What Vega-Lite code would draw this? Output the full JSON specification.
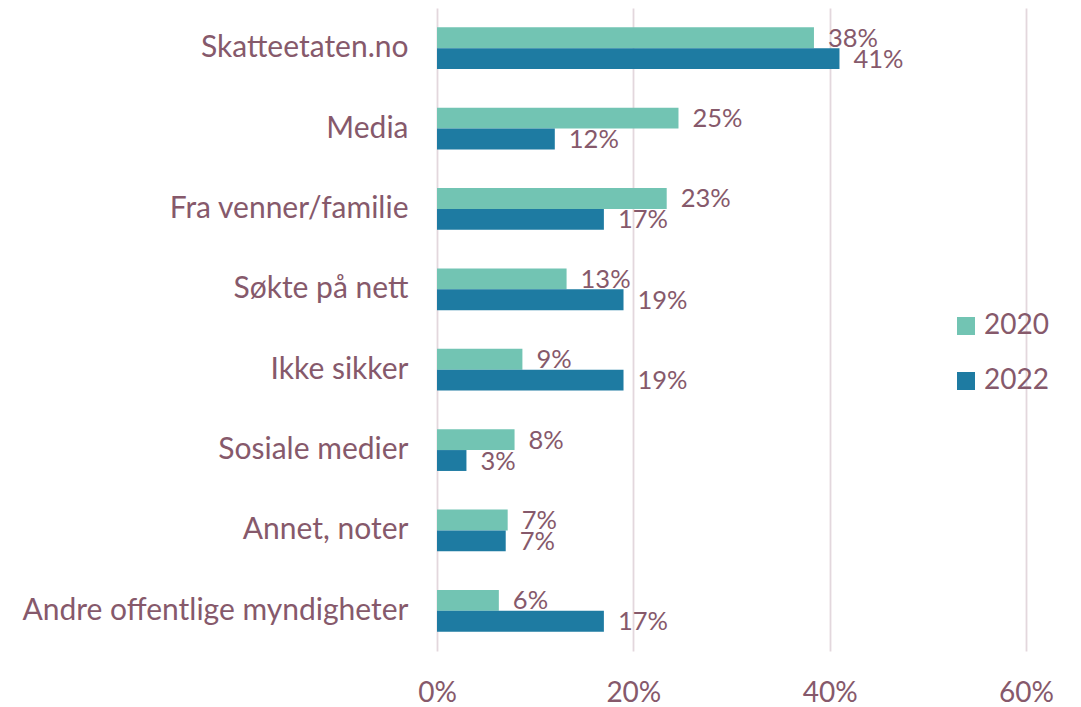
{
  "$schema": "https://vega.github.io/schema/vega-lite/v6.json",
  "width": 589,
  "height": 643,
  "autosize": {"type": "none"},
  "padding": {"left": 437, "top": 8, "right": 55, "bottom": 56},
  "background": "#ffffff",
  "config": {
    "view": {"stroke": null},
    "font": "Lato",
    "text": {"font": "Lato"}
  },
  "data": {
    "values": [
      {"kategori": "Skatteetaten.no", "år": "2020", "andel": 0.384},
      {"kategori": "Skatteetaten.no", "år": "2022", "andel": 0.41},
      {"kategori": "Media", "år": "2020", "andel": 0.246},
      {"kategori": "Media", "år": "2022", "andel": 0.12},
      {"kategori": "Fra venner/familie", "år": "2020", "andel": 0.234},
      {"kategori": "Fra venner/familie", "år": "2022", "andel": 0.17},
      {"kategori": "Søkte på nett", "år": "2020", "andel": 0.132},
      {"kategori": "Søkte på nett", "år": "2022", "andel": 0.19},
      {"kategori": "Ikke sikker", "år": "2020", "andel": 0.087},
      {"kategori": "Ikke sikker", "år": "2022", "andel": 0.19},
      {"kategori": "Sosiale medier", "år": "2020", "andel": 0.079},
      {"kategori": "Sosiale medier", "år": "2022", "andel": 0.03},
      {"kategori": "Annet, noter", "år": "2020", "andel": 0.072},
      {"kategori": "Annet, noter", "år": "2022", "andel": 0.07},
      {"kategori": "Andre offentlige myndigheter", "år": "2020", "andel": 0.063},
      {"kategori": "Andre offentlige myndigheter", "år": "2022", "andel": 0.17}
    ]
  },
  "encoding": {
    "y": {
      "field": "kategori",
      "type": "nominal",
      "sort": null,
      "scale": {"paddingInner": 0.48, "paddingOuter": 0.24},
      "axis": {
        "title": null,
        "domain": false,
        "ticks": false,
        "labelPadding": 29,
        "labelFontSize": 30,
        "labelColor": "#86596B",
        "labelFont": "Lato",
        "labelLimit": 500
      }
    },
    "yOffset": {"field": "år", "type": "nominal", "scale": {"domain": ["2020", "2022"]}},
    "x": {
      "field": "andel",
      "type": "quantitative",
      "scale": {"domain": [0, 0.6], "nice": false},
      "axis": {
        "title": null,
        "values": [0, 0.2, 0.4, 0.6],
        "format": ".0%",
        "domain": false,
        "ticks": false,
        "grid": true,
        "gridColor": "#E3D7DD",
        "gridWidth": 1.8,
        "labelPadding": 28,
        "labelFontSize": 28,
        "labelFlush": false,
        "labelColor": "#86596B",
        "labelFont": "Lato"
      }
    }
  },
  "layer": [
    {
      "mark": {"type": "bar"},
      "encoding": {
        "color": {
          "field": "år",
          "type": "nominal",
          "scale": {"domain": ["2020", "2022"], "range": ["#72C4B3", "#1E7BA2"]},
          "legend": {
            "title": null,
            "orient": "none",
            "legendX": 515,
            "legendY": 304,
            "symbolType": "square",
            "symbolSize": 324,
            "symbolStrokeWidth": 0,
            "labelFontSize": 28,
            "labelColor": "#86596B",
            "labelFont": "Lato",
            "labelOffset": 4,
            "rowPadding": 27,
            "padding": 0
          }
        }
      }
    },
    {
      "mark": {"type": "text", "align": "left", "baseline": "middle", "dx": 14, "dy": 1, "fontSize": 25.5, "color": "#86596B"},
      "encoding": {
        "text": {"field": "andel", "type": "quantitative", "format": ".0%"}
      }
    }
  ]
}
